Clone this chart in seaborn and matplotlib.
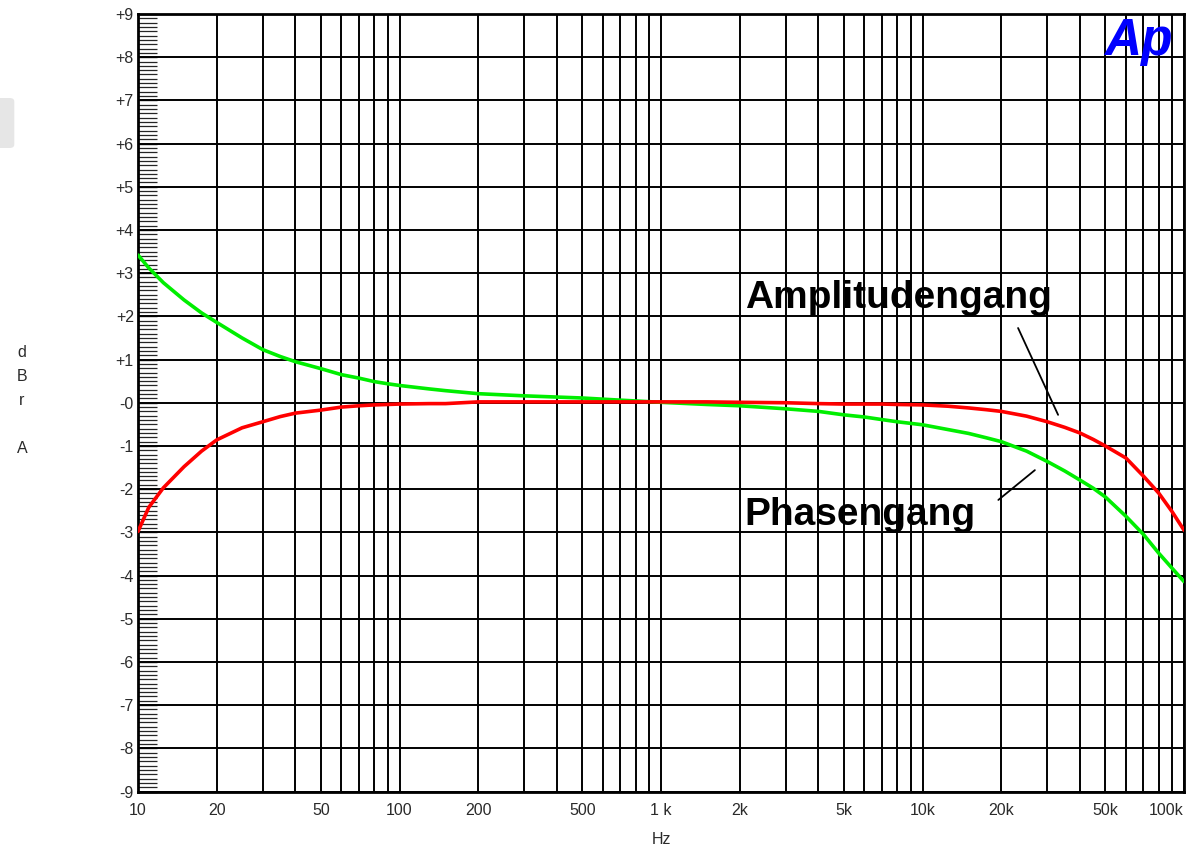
import numpy as np
import pandas as pd
import matplotlib
matplotlib.use("Agg")
import matplotlib.pyplot as plt
import seaborn as sns
from matplotlib.ticker import FixedLocator, MultipleLocator
from matplotlib.patches import FancyBboxPatch

# ---------------- data ----------------
freq_hz = [10, 11, 12.5, 15, 17.5, 20, 25, 30, 35, 40, 50, 60, 70, 80, 90, 100,
           130, 150, 200, 300, 500, 700, 1000, 1500, 2000, 3000, 4000, 5000,
           6000, 7000, 8000, 10000, 12500, 15000, 17500, 20000, 25000, 30000,
           35000, 40000, 45000, 50000, 60000, 70000, 80000, 90000, 100000]

amplitude_db = [-2.98, -2.42, -1.97, -1.48, -1.12, -0.86, -0.58, -0.44, -0.32,
                -0.24, -0.17, -0.10, -0.07, -0.05, -0.04, -0.03, -0.02, -0.02,
                0.02, 0.02, 0.02, 0.02, 0.02, 0.02, 0.01, 0.00, -0.02, -0.03,
                -0.03, -0.03, -0.04, -0.05, -0.08, -0.12, -0.16, -0.20, -0.31,
                -0.44, -0.57, -0.70, -0.85, -1.00, -1.28, -1.70, -2.09, -2.52,
                -2.95]

phase_db = [3.42, 3.12, 2.78, 2.38, 2.08, 1.86, 1.50, 1.23, 1.07, 0.95, 0.79,
            0.65, 0.57, 0.49, 0.44, 0.40, 0.32, 0.28, 0.21, 0.16, 0.11, 0.06,
            0.01, -0.04, -0.07, -0.14, -0.20, -0.28, -0.33, -0.39, -0.44, -0.51,
            -0.62, -0.71, -0.81, -0.90, -1.12, -1.36, -1.58, -1.79, -1.98, -2.18,
            -2.63, -3.05, -3.48, -3.83, -4.14]

series_names = ["Phasengang", "Amplitudengang"]
series_colors = ["#00ee00", "#ff0000"]

x_tick_values = [10, 20, 50, 100, 200, 500, 1000, 2000, 5000, 10000, 20000, 50000, 100000]
x_tick_labels = ["10", "20", "50", "100", "200", "500", "1 k", "2k", "5k", "10k", "20k", "50k", "100k"]
y_tick_values = list(range(-9, 10))
y_tick_labels = [("+%d" % v) if v > 0 else ("-%d" % abs(v)) for v in y_tick_values]

# ---------------- frame ----------------
df = pd.DataFrame({
    "Hz": freq_hz * 2,
    "dBr": phase_db + amplitude_db,
    "curve": [series_names[0]] * len(freq_hz) + [series_names[1]] * len(freq_hz),
})

sns.set_style("white")
plt.rcParams["font.family"] = ["Liberation Sans", "DejaVu Sans"]

fig = plt.figure(figsize=(11.9, 8.51), dpi=100)
ax = fig.add_axes([138 / 1190, 1 - 791.5 / 851, (1184 - 138) / 1190, (791.5 - 14) / 851])

ax.set_xscale("log")
ax.set_xlim(10, 100000)
ax.set_ylim(-9, 9)

# grid
grid_x = [m * 10 ** e for e in range(1, 5) for m in range(1, 10)] + [100000]
for gx in grid_x:
    ax.axvline(gx, color="black", lw=1.4, zorder=1)
for gy in y_tick_values:
    ax.axhline(gy, color="black", lw=1.4, zorder=1)

sns.lineplot(data=df, x="Hz", y="dBr", hue="curve", hue_order=series_names,
             palette=series_colors, linewidth=2.6, legend=False, ax=ax,
             estimator=None, sort=True, zorder=3)

# ticks
ax.xaxis.set_major_locator(FixedLocator(x_tick_values))
ax.set_xticklabels(x_tick_labels)
ax.xaxis.set_minor_locator(FixedLocator([]))
ax.tick_params(axis="x", which="major", length=0, pad=8, labelsize=11.5, labelcolor="#2a2a2a")
labs = ax.get_xticklabels()
labs[-1].set_horizontalalignment("right")
labs[-1].set_x(100000)

ax.yaxis.set_major_locator(FixedLocator(y_tick_values))
ax.set_yticklabels(y_tick_labels)
ax.yaxis.set_minor_locator(MultipleLocator(0.1))
ax.tick_params(axis="y", which="major", direction="in", length=14, width=1.0,
               pad=3, labelsize=11.5, labelcolor="#2a2a2a", left=True)
ax.tick_params(axis="y", which="minor", direction="in", length=14, width=0.9, left=True)

for s in ax.spines.values():
    s.set_color("black")
    s.set_linewidth(2.0)

ax.set_xlabel("Hz", fontsize=11.5, color="#2a2a2a", labelpad=10)
ax.set_ylabel("d\nB\nr\n\nA", rotation=0, fontsize=11.5, color="#2a2a2a",
              linespacing=1.75, va="center", ha="center")
ax.yaxis.set_label_coords(-(138 - 22) / 1046, (791.5 - 401) / 777.5)

# annotations
ax.text(2090, 2.19, "Amplitudengang", fontsize=28, fontweight="bold",
        va="baseline", ha="left", color="black", zorder=5)
ax.text(2090, -2.83, "Phasengang", fontsize=28, fontweight="bold",
        va="baseline", ha="left", color="black", zorder=5)
ax.plot([23200, 33000], [1.73, -0.28], color="black", lw=1.3, zorder=5)
ax.plot([26900, 19500], [-1.56, -2.25], color="black", lw=1.3, zorder=5)

# logo
ax.text(0.924, 0.947, "Ap", transform=ax.transAxes, fontsize=37, fontweight="bold",
        fontstyle="italic", color="#0000ff", va="baseline", ha="left", zorder=6)

# small grey UI artefact at left edge
fig.patches.append(FancyBboxPatch((-0.01, 1 - 148 / 851), 0.022, 50 / 851,
                                  boxstyle="round,pad=0,rounding_size=0.004",
                                  transform=fig.transFigure, facecolor="#e6e6e6",
                                  edgecolor="none", figure=fig))

fig.savefig("out.png", dpi=100)
